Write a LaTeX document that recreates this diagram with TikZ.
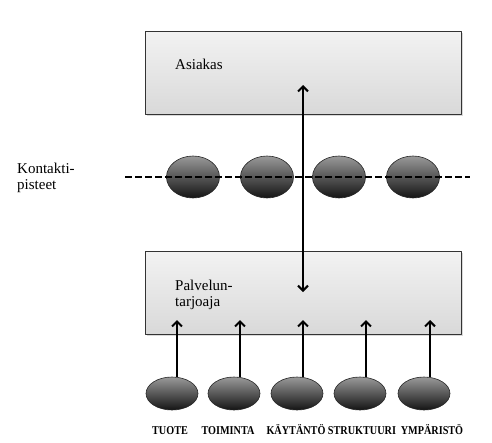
\documentclass[tikz,border=0pt]{standalone}
\usepackage{fontspec}
\setmainfont{Liberation Serif}
\newfontfamily\nimifont{Liberation Serif}[FakeStretch=0.85]
\usetikzlibrary{arrows.meta,shapes.geometric,shadows}

\begin{document}
\begin{tikzpicture}[x=1pt, y=-1pt, line join=round,
		>={Straight Barb[length=5pt,width=10pt]},
		laatikko/.style={draw=black!80, line width=0.8pt, top color=gray!10, bottom color=gray!30,
			minimum width=316pt, minimum height=83pt, inner sep=0pt,
			drop shadow={opacity=0.3, shadow xshift=1.5pt, shadow yshift=-1.5pt}},
		piste/.style={ellipse, draw=black!85, line width=0.6pt, top color=black!40, bottom color=black!92,
			minimum width=53pt, minimum height=42pt, inner sep=0pt},
		nuoli/.style={->, line width=2pt},
		teksti/.style={inner sep=0pt, align=left, font=\fontsize{15}{16}\selectfont},
		nimi/.style={font=\nimifont\fontsize{12}{14}\selectfont\bfseries, inner sep=0pt, anchor=base}]
	\useasboundingbox (0,0) rectangle (492,442);
	% asiakas ja palveluntarjoaja
	\node[laatikko] (asiakas) at (303,72.5) {};
	\node[laatikko] (tarjoaja) at (303,293) {};
	\node[teksti, anchor=base west] (asiakasteksti) at (175,69) {Asiakas};
	\node[teksti, anchor=north west] (tarjoajateksti) at (175,280) {Palvelun-\\tarjoaja};
	\node[teksti, anchor=north west] (kontakti) at (17,163) {Kontakti-\\pisteet};
	% kontaktipisteet
	\foreach \x [count=\i] in {193, 267, 339, 413} \node[piste] (p\i) at (\x,177) {};
	\coordinate (va) at (125,177);
	\coordinate (oi) at (470,177);
	\draw[line width=2pt, dash pattern=on 7pt off 3pt] (va) -- (oi);
	% kaksisuuntainen nuoli
	\coordinate (ylos) at (303,85);
	\coordinate (alas) at (303,292);
	\draw[nuoli, <->] (alas) -- (ylos);
	% tekijat
	\foreach \ex/\nx/\lx/\txt [count=\i] in {172/177/170/TUOTE, 234/240/228/TOIMINTA, 297/303/296/KÄYTÄNTÖ, 360/366/362/STRUKTUURI, 424/430/432/YMPÄRISTÖ} {
		\node[piste, minimum width=52pt, minimum height=33pt] (t\i) at (\ex,393.5) {};
		\coordinate (k\i) at (\nx,320);
		\draw[nuoli] (t\i.north -| k\i) -- (k\i);
		\node[nimi] (n\i) at (\lx,434) {\txt};
	}
\end{tikzpicture}
\end{document}
